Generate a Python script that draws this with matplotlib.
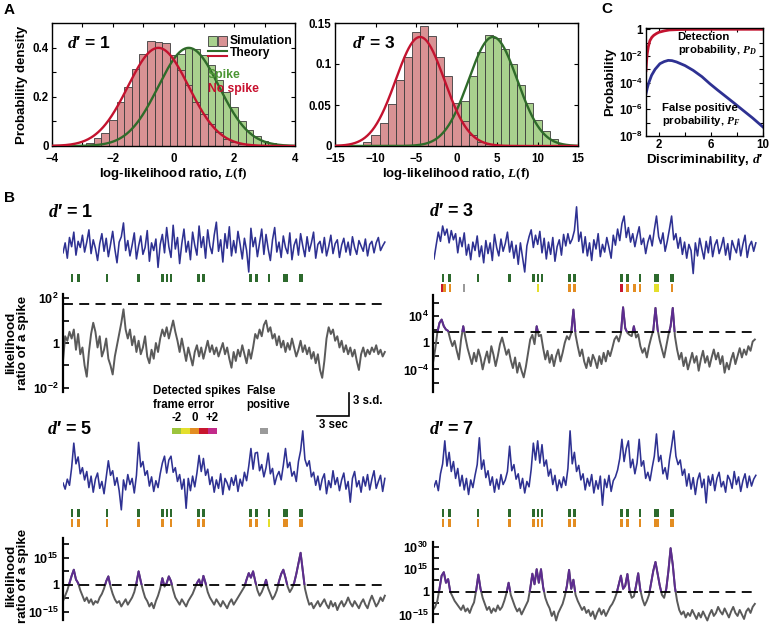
import numpy as np
import matplotlib
matplotlib.use('Agg')
import matplotlib.pyplot as plt
from matplotlib.patches import Rectangle
from matplotlib.lines import Line2D
from matplotlib.ticker import FixedLocator, FixedFormatter, NullFormatter

plt.rcParams['font.family'] = ['Liberation Sans', 'DejaVu Sans']
plt.rcParams['font.weight'] = 'bold'
plt.rcParams['axes.labelweight'] = 'bold'
plt.rcParams['mathtext.fontset'] = 'custom'
plt.rcParams['mathtext.rm'] = 'Liberation Serif'
plt.rcParams['mathtext.it'] = 'Liberation Serif:italic'
plt.rcParams['mathtext.bf'] = 'Liberation Sans:bold'
plt.rcParams['xtick.direction'] = 'in'
plt.rcParams['ytick.direction'] = 'in'
plt.rcParams['axes.linewidth'] = 1.0

# ---------------- data: panel A ----------------
hist1_centers = [-3.0, -2.75, -2.5, -2.25, -2.0, -1.75, -1.5, -1.25, -1.0, -0.75, -0.5, -0.25, 0.0,
                 0.25, 0.5, 0.75, 1.0, 1.25, 1.5, 1.75, 2.0, 2.25, 2.5, 2.75, 3.0, 3.25, 3.5]
hist1_nospike = [0.004, 0.013, 0.031, 0.054, 0.105, 0.18, 0.24, 0.314, 0.375, 0.426, 0.422, 0.418, 0.37,
                 0.31, 0.25, 0.18, 0.13, 0.09, 0.055, 0.03, 0.017, 0.008, 0.003, 0.001, 0.0, 0.0, 0.0]
hist1_spike = [0.0, 0.0, 0.002, 0.004, 0.008, 0.015, 0.028, 0.05, 0.08, 0.12, 0.17, 0.23, 0.30,
               0.375, 0.40, 0.395, 0.37, 0.33, 0.27, 0.22, 0.16, 0.10, 0.065, 0.04, 0.022, 0.012, 0.005]
hist3_centers = [-11, -10, -9, -8, -7, -6, -5, -4, -3, -2, -1, 0, 1, 2, 3, 4, 5, 6, 7, 8, 9, 10, 11, 12, 13]
hist3_nospike = [0.005, 0.013, 0.028, 0.051, 0.080, 0.109, 0.139, 0.146, 0.134, 0.109, 0.085, 0.052, 0.03,
                 0.013, 0.005, 0.002, 0, 0, 0, 0, 0, 0, 0, 0, 0]
hist3_spike = [0, 0, 0, 0, 0, 0, 0, 0.002, 0.004, 0.01, 0.018, 0.032, 0.055, 0.085, 0.115, 0.135, 0.132,
               0.118, 0.10, 0.075, 0.052, 0.032, 0.018, 0.008, 0.003]
theory1_mean = [0.5, -0.5]   # spike, no spike
theory1_sd = [1.0, 1.0]
theory3_mean = [4.5, -4.5]
theory3_sd = [3.0, 3.0]

# ---------------- data: panel C ----------------
c_dprime_pd = [1.0, 1.03, 1.06, 1.1, 1.18, 1.3, 1.45, 1.6, 1.8, 2.0, 2.4, 2.8, 3.5, 4.5, 6.0, 8.0, 10.0]
c_log10_pd = [-3.1, -2.6, -2.2, -1.8, -1.3, -0.85, -0.6, -0.45, -0.32, -0.22, -0.12, -0.05, -0.02, -0.005, 0, 0, 0]
c_dprime_pf = [1.0, 1.1, 1.2, 1.43, 1.7, 2.07, 2.4, 2.71, 3.0, 3.35, 4.0, 4.63, 5.3, 5.91, 6.5, 7.19, 7.8, 8.47, 9.2, 10.0]
c_log10_pf = [-4.83, -4.4, -4.05, -3.45, -3.0, -2.58, -2.42, -2.33, -2.35, -2.45, -2.72, -3.08, -3.55, -4.08,
              -4.55, -5.08, -5.55, -6.08, -6.65, -7.33]

# ---------------- data: panel B ----------------
sample_dt = 0.2  # s
spike_times = [0.83, 1.44, 4.07, 6.99, 9.21, 9.63, 10.0, 12.55, 13.01, 17.36, 17.92, 19.07, 20.6, 22.04]
spike_counts = [1, 1, 1, 1, 1, 1, 1, 1, 1, 1, 1, 1, 2, 2]

det3_times = [0.74, 0.99, 1.48, 9.63, 12.55, 13.01, 17.36, 17.92, 18.56, 19.07, 20.6, 22.04]
det3_err = [1, 0, 0, -1, 0, 0, 1, 0, 0, 0, -1, 0]
det3_counts = [1, 1, 1, 1, 1, 1, 1, 1, 1, 1, 2, 1]
fp3_times = [2.78]
det5_times = [0.83, 1.44, 4.07, 6.99, 9.21, 10.0, 12.55, 13.01, 17.36, 17.92, 19.07, 20.6, 22.04]
det5_err = [0, 0, 0, 0, 0, 0, 0, 0, 0, 0, -1, 0, 0]
det5_counts = [1, 1, 1, 1, 1, 1, 1, 1, 1, 1, 1, 2, 2]
det7_times = spike_times
det7_err = [0] * 14
det7_counts = spike_counts

blue1 = [-0.5, 0.8, -1.2, 1.5, 0.3, 2.2, -0.8, 1.0, 0.2, 1.8,
         -0.4, 0.9, 2.5, -0.6, 1.2, 0.1, -1.5, 0.7, 2.0, -0.3,
         1.4, -1.0, 0.6, 2.3, 0.0, -1.8, 0.9, 1.6, 3.4, -0.2,
         1.1, -0.9, 0.5, 2.1, -1.3, 0.4, 1.7, -0.7, 0.2, 2.4,
         -1.6, 0.8, -0.2, 1.3, -2.4, 0.6, 1.9, -0.5, 2.8, 0.3,
         -1.1, 3.1, 0.0, 1.5, -1.9, 0.7, 2.6, -0.4, 1.0, -1.4,
         2.2, 0.5, -0.8, 3.0, 0.2, 1.6, -1.2, 2.5, 0.4, -0.6,
         1.8, 3.5, -0.3, 1.2, -1.7, 2.0, 0.1, 2.9, -0.9, 1.1,
         -0.5, 2.3, 0.6, -1.3, 1.4, -0.2, -3.0, 2.7, 0.3, 1.5,
         -1.0, 0.8, 2.6, -0.7, 1.9, 0.0, -1.5, 1.2, 2.8, -0.4,
         0.9, -1.1, 1.7, 0.2, -0.6, 2.1, -1.4, 0.5, 1.3, -0.8,
         2.0, 0.4, -1.0, 1.6, -0.3, 0.8, 2.2, -1.2, 0.6, 1.0,
         -0.5, 1.5, -0.9, 0.3, 1.8, -0.6, 0.7, 1.2, -1.1, 0.5,
         1.4, -0.4, 0.9, -0.8, 1.6, 0.2, -0.7, 1.1, 0.4, -0.3,
         1.3, -0.9, 0.6, 1.0, -0.5, 0.8, 1.5, -0.2, 0.4, 0.9]
blue3 = [-1.3, 0.5, 2.2, 1.0, 3.0, 1.8, 2.6, 0.8, 2.4, 1.2,
         2.0, -0.5, 1.5, 0.3, 2.1, -0.8, 0.6, -1.4, 0.9, -0.2,
         1.7, -1.0, 0.4, -1.8, 1.1, -0.6, 0.8, -1.5, 1.9, 0.2,
         -0.9, 1.3, -0.3, 0.7, 2.2, -0.4, 1.0, -1.2, 0.5, -2.0,
         0.8, -1.1, -3.0, 0.4, 1.6, 2.5, 0.2, 1.8, 0.6, 2.3,
         -0.5, 1.4, -1.3, 0.9, -0.7, 1.5, -1.6, 0.3, 1.2, -0.8,
         1.9, 0.4, 2.0, 0.7, 1.3, 2.4, 5.5, 1.0, 2.2, -0.5,
         1.6, -0.9, 0.8, -1.5, 1.2, 0.0, 2.0, -1.0, 0.6, -0.4,
         1.5, 0.2, -1.2, 1.8, 0.5, 2.6, 1.1, 3.3, 4.3, 1.5,
         2.8, 0.9, 2.0, 0.3, 1.7, 2.9, 0.6, 1.4, -0.6, 0.9,
         1.8, 0.4, 2.5, 4.3, 1.6, 0.7, 2.1, -0.3, 1.0, 2.6,
         4.3, 1.2, 2.0, 0.1, 1.5, -0.7, 0.9, -1.2, 0.6, -0.2,
         -3.2, 0.8, -0.9, 1.4, 0.0, -1.3, 1.0, -0.5, 1.6, -1.0,
         0.5, 1.2, -0.6, 0.3, 1.5, -0.8, 0.7, -1.4, 1.1, 0.2,
         -0.5, 1.3, -0.9, 0.6, 1.8, -1.1, 0.4, 1.0, -0.3, 0.8]
blue5 = [0.0, -0.8, 0.5, -0.3, 2.0, 5.2, 2.5, 3.4, 1.2, 2.0,
         0.4, 1.5, -0.6, 0.9, -1.2, 0.5, 1.3, -0.7, 0.2, -1.4,
         0.8, 2.9, 1.0, 1.6, -0.3, 0.7, -1.0, -3.5, 0.4, -0.9,
         1.1, -0.2, 0.6, -1.3, 1.0, 5.3, 2.1, 2.8, 1.0, 1.6,
         -0.4, 0.8, -1.1, 0.3, -0.6, 1.2, 2.6, 3.5, 1.3, 3.0,
         3.5, 1.4, 2.0, 0.2, 1.1, -0.8, 0.5, -3.3, 0.6, -1.0,
         0.9, -0.5, 1.3, 3.6, 1.5, 3.2, 1.0, 1.8, -0.2, 0.8,
         -1.2, 0.4, -0.7, 1.2, -1.5, 0.6, 0.0, -0.9, 0.7, -0.3,
         1.0, -1.1, 0.5, -0.4, 1.4, 0.3, 2.2, 4.5, 1.8, 3.9,
         4.0, 1.6, 2.4, 0.8, 2.0, 3.9, 1.2, 1.9, -0.2, 0.9,
         1.5, 0.4, 2.3, 4.5, 2.0, 2.7, 0.9, 1.5, 0.2, 2.8,
         4.2, 6.8, 3.1, 2.2, 2.9, 0.8, 1.4, -0.3, 0.9, -0.9,
         0.5, 1.2, -1.4, 0.3, -0.6, 1.6, -0.2, 0.7, -1.0, 0.4,
         1.3, -0.8, 0.2, -2.5, 0.6, 1.5, -0.5, 0.3, -1.2, 0.8,
         -0.4, 1.1, -0.9, 0.5, 1.6, -0.7, 0.2, 1.0, -1.1, 0.6]
blue7 = [-0.5, 0.3, -1.0, 1.2, 2.5, 5.5, 2.2, 4.0, 1.5, 2.8,
         0.6, 1.9, -0.4, 1.0, -0.9, 0.6, -1.5, 0.4, -0.6, 1.0,
         2.4, 5.9, 1.8, 3.0, 0.7, 1.6, -0.3, 0.8, -1.2, 0.5,
         -0.8, 1.1, -0.2, 0.4, 1.5, 4.8, 1.6, 2.4, 0.5, 1.2,
         -0.7, 0.6, -1.3, 0.2, -0.5, 1.8, 5.2, 3.0, 5.5, 2.6,
         5.0, 2.2, 3.0, 0.9, 1.8, -0.2, 1.0, -1.0, 0.4, -0.6,
         0.8, -0.3, 1.9, 6.8, 2.5, 4.0, 1.5, 2.3, 0.4, 1.2,
         -0.9, 0.6, -0.4, 1.1, -1.3, 0.3, -0.8, 0.9, -2.9, 0.5,
         -0.6, 1.0, -1.1, 0.3, 0.8, 1.7, 3.2, 5.7, 2.8, 4.5,
         5.5, 2.0, 3.1, 1.2, 2.6, 5.7, 2.2, 2.9, 0.6, 1.4,
         0.3, 2.0, 3.5, 6.4, 2.8, 3.6, 1.2, 2.0, 0.5, 3.0,
         4.8, 6.8, 3.5, 2.4, 3.0, 1.0, 1.8, -0.4, 1.2, -0.8,
         0.7, -1.5, 0.4, 1.3, -0.6, 0.5, -2.6, 0.9, -0.3, 1.1,
         -1.0, 0.6, 1.4, -0.5, 0.2, -1.2, 1.0, 0.4, -0.7, 1.5,
         -0.2, 0.8, -1.1, 0.3, 1.2, -0.6, 0.9, -0.4, 0.5, 1.0]

# log10 likelihood ratio of a spike
lr1 = [-0.8, 0.3, 0.1, 0.5, 0.2, 0.6, -0.3, 0.4, -0.5, -0.2,
       -1.0, -1.5, -0.4, 0.4, 0.9, 0.5, -0.2, 0.3, -0.6, -0.3,
       0.2, -0.7, -1.0, -1.4, -0.6, -0.1, 0.4, 0.9, 1.5, 0.6,
       0.2, 0.6, -0.1, 0.3, -0.4, 0.1, -0.5, -0.2, 0.3, -0.6,
       -0.9, -0.3, -0.7, 0.0, -0.4, 0.2, 0.6, 0.3, 0.7, 0.2,
       0.6, 1.0, 0.5, 0.1, -0.4, 0.2, -0.3, -0.8, -0.2, -0.6,
       -1.0, -0.4, -0.1, -0.6, -0.2, -0.7, -0.3, 0.1, -0.4, -0.1,
       -0.5, -0.2, -0.6, -0.3, 0.0, -0.5, -0.2, -0.7, -1.1, -0.4,
       -0.8, -0.3, -0.6, -0.1, -0.5, -0.9, -0.3, -0.7, -0.2, 0.4,
       0.2, 0.6, 0.3, 0.8, 1.0, 0.5, 0.7, 0.2, 0.4, -0.1,
       0.3, -0.2, 0.1, -0.4, 0.0, -0.3, 0.2, -0.2, -0.6, -0.3,
       0.1, -0.4, -0.1, -0.5, -0.2, -0.7, -0.4, -0.9, -0.5, -1.2,
       -1.55, -0.8, 0.2, 0.7, 0.4, 0.6, 0.1, 0.3, -0.2, 0.1,
       -0.4, -0.1, -0.5, -0.2, -0.6, -0.3, -0.8, -1.2, -0.5, -0.2,
       -0.6, -0.3, -0.5, -0.2, -0.4, -0.1, -0.5, -0.3, -0.6, -0.4]
lr3 = [-3.0, -1.0, 1.5, 3.0, 3.5, 2.5, 2.0, 1.8, 0.5, -0.5,
       0.3, -1.2, -2.5, 0.5, 2.5, 0.8, -0.8, -2.0, -3.2, -1.5,
       -2.8, -1.0, -2.2, -4.0, -2.5, -1.3, -3.0, -0.5, -1.8, -3.5,
       -2.0, -0.2, 0.8, -0.5, -1.8, -1.0, -2.6, -3.8, -2.2, -4.5,
       -3.0, -4.2, -5.2, -3.6, -1.5, 0.5, 1.2, -0.2, 2.5, 1.0,
       1.2, -0.8, -2.5, -1.2, -3.0, -1.8, -3.5, -2.0, -1.0, -2.8,
       -1.5, 0.0, 1.0, 0.5, 1.5, 5.0, 1.2, -0.5, -2.0, -1.0,
       -2.8, -3.8, -2.2, -3.5, -1.8, -2.6, -3.8, -2.0, -3.2, -1.5,
       -2.8, -1.2, -2.0, -0.8, 0.5, 1.0, 0.2, 1.4, 5.35, 2.2,
       1.5, 1.2, 1.0, 2.5, 0.8, 1.3, -0.5, -1.5, -0.8, -2.2,
       -0.5, 0.8, 1.9, 5.25, 2.0, 0.3, -1.0, -2.2, -0.5, 1.2,
       2.5, 5.25, 1.0, -1.0, -2.5, -1.5, -3.5, -2.2, -4.0, -2.8,
       -1.5, -3.0, -2.0, -4.2, -2.5, -1.2, -3.0, -2.0, -3.6, -2.2,
       -1.0, -2.5, -1.5, -3.2, -2.0, -4.5, -3.0, -4.0, -2.5, -1.5,
       -3.2, -2.0, -0.8, -2.2, -1.0, -1.8, -0.5, -1.2, 0.2, 0.5]
lr5 = [-9, -6, -3, 1, 5, 8.4, 3, 1, -3, -6,
       -9, -7, -10, -8, -11, -9, -10, -7, -5, -2,
       2, 4.7, -1, -5, -8, -10, -9, -12, -10, -8,
       -11, -9, -7, -4, 1, 7.5, 2, -3, -7, -9,
       -12, -10, -13, -9, -6, -2, 3.7, -1, 1, 4.7,
       2, -3, -7, -9, -11, -8, -10, -12, -9, -7,
       -5, -2, 1, 3, -1, 5, 1, -4, -7, -9,
       -11, -8, -10, -12, -9, -11, -13, -10, -8, -11,
       -9, -7, -5, -3, -1, 3, 6.5, 4, 7.5, 2,
       -3, -6, -4, -1, 2.8, -2, -5, -8, -6, -3,
       2, 6, 8.4, 4, -1, -4, -2, 1, 6, 12,
       17.8, 8, -2, -7, -11, -10, -13, -11, -9, -12,
       -10, -8, -11, -13, -9, -12, -10, -14, -11, -9,
       -12, -10, -7, -10, -12, -9, -11, -13, -10, -8,
       -11, -13, -9, -6, -9, -12, -10, -7, -9, -6]
lr7 = [-12, -10, -6, 2, 10.7, 13, 6, 8.4, 0, -3,
       -6, -8, -10, -12, -9, -13, -11, -14, -10, -7,
       1, 11.4, 2, -4, -8, -12, -10, -14, -11, -13,
       -9, -12, -10, -6, -1, 6, -2, -6, -10, -13,
       -11, -15, -12, -9, -6, 2, 12, 5, 15, 6,
       15, 3, -4, -8, -11, -16, -13, -19, -14, -11,
       -8, -3, 4, 14.5, 2, 8, -2, -6, -9, -12,
       -10, -14, -12, -16, -13, -18, -14, -11, -15, -12,
       -16, -13, -10, -8, -5, -1, 5, 10.7, 2, 4,
       11.8, 1, -4, -3, 4, 12.3, 1, -5, -9, -6,
       -2, 6, 14, 19.8, 12, 4, -2, -4, 2, 14,
       28.9, 18, 3, -6, -12, -15, -13, -17, -14, -16,
       -12, -15, -18, -14, -17, -13, -16, -19, -15, -12,
       -16, -14, -10, -13, -15, -11, -14, -17, -13, -10,
       -14, -16, -12, -15, -18, -13, -11, -14, -10, -8]
lr_threshold = {1: 1.75, 3: 1.6, 5: 0.0, 7: 0.0}

err_values = [-2, -1, 0, 1, 2]
err_colors = ['#9cc43c', '#e4df2c', '#e38d22', '#c8162e', '#c22a8a']

# ---------------- styles ----------------
BLUE = '#2e3192'
GREEN_R = '#2d6a2d'
GRAY = '#5a5a5a'
PURPLE = '#5d2c90'
RED_C = '#c3132f'
GREEN_C = '#2f6b2a'
HIST_RED = '#d99294'
HIST_GREEN = '#a9d18e'
FP_GRAY = '#9a9a9a'
DPRIME = "$d$\u2032"

W, H = 769, 626
fig = plt.figure(figsize=(W / 100, H / 100), dpi=100)


def px_axes(x0, y0, x1, y1):
    return fig.add_axes([x0 / W, 1 - y1 / H, (x1 - x0) / W, (y1 - y0) / H])


def ftext(x, y, s, **kw):
    return fig.text(x / W, 1 - y / H, s, **kw)


# ================= Panel A =================
def hist_panel(ax, centers, sp, ns, width, means, sds, xlim):
    ax.bar(centers, sp, width=width, color=HIST_GREEN, edgecolor='#3c3c3c', linewidth=0.6, zorder=1)
    ax.bar(centers, ns, width=width, color=HIST_RED, edgecolor='#3c3c3c', linewidth=0.6, zorder=2)
    x = np.linspace(xlim[0], xlim[1], 400)
    for m, s, c in zip(means, sds, [GREEN_C, RED_C]):
        ax.plot(x, np.exp(-(x - m) ** 2 / (2 * s * s)) / (s * np.sqrt(2 * np.pi)), color=c, lw=1.7, zorder=3)
    ax.set_xlim(*xlim)
    ax.tick_params(which='both', direction='in', top=True, right=True, labelsize=8.3, length=3, width=0.8, pad=2.5)
    ax.tick_params(axis='x', pad=5)
    ax.set_xlabel(r"log-likelihood ratio, $L(\mathbf{f})$", fontsize=9.5, labelpad=1)


axA1 = px_axes(52, 23, 295, 146)
hist_panel(axA1, hist1_centers, hist1_spike, hist1_nospike, 0.25, theory1_mean, theory1_sd, (-4, 4))
axA1.set_ylim(0, 0.5)
axA1.set_xticks([-4, -2, 0, 2, 4])
axA1.set_xticks([-3, -1, 1, 3], minor=True)
axA1.set_yticks([0, 0.2, 0.4])
axA1.set_yticklabels(['0', '0.2', '0.4'])
axA1.set_yticks([0.1, 0.3], minor=True)
axA1.set_ylabel('Probability density', fontsize=9.5, labelpad=3)
axA1.text(0.06, 0.84, DPRIME + " = 1", transform=axA1.transAxes, fontsize=12.5, va='center')
# legend
tA = axA1.transAxes
axA1.add_patch(Rectangle((0.642, 0.815), 0.037, 0.08, transform=tA, facecolor=HIST_GREEN, edgecolor='#3c3c3c', lw=0.6, clip_on=False))
axA1.add_patch(Rectangle((0.682, 0.815), 0.037, 0.08, transform=tA, facecolor=HIST_RED, edgecolor='#3c3c3c', lw=0.6, clip_on=False))
axA1.text(0.73, 0.855, 'Simulation', transform=tA, fontsize=8.7, va='center')
axA1.add_line(Line2D([0.642, 0.72], [0.775, 0.775], transform=tA, color=GREEN_C, lw=1.5))
axA1.add_line(Line2D([0.642, 0.72], [0.735, 0.735], transform=tA, color=RED_C, lw=1.5))
axA1.text(0.73, 0.755, 'Theory', transform=tA, fontsize=8.7, va='center')
axA1.text(0.642, 0.575, 'Spike', transform=tA, fontsize=8.7, va='center', color='#4b9634')
axA1.text(0.642, 0.465, 'No spike', transform=tA, fontsize=8.7, va='center', color='#c8102e')

axA2 = px_axes(335, 23, 578, 146)
hist_panel(axA2, hist3_centers, hist3_spike, hist3_nospike, 1.0, theory3_mean, theory3_sd, (-15, 15))
axA2.set_ylim(0, 0.15)
axA2.set_xticks([-15, -10, -5, 0, 5, 10, 15])
axA2.set_yticks([0, 0.05, 0.1, 0.15])
axA2.set_yticklabels(['0', '0.05', '0.1', '0.15'])
axA2.text(0.07, 0.84, DPRIME + " = 3", transform=axA2.transAxes, fontsize=12.5, va='center')

# ================= Panel C =================
axC = px_axes(646, 28, 763, 136)
axC.set_yscale('log')
axC.plot(c_dprime_pd, 10.0 ** np.array(c_log10_pd), color=RED_C, lw=2.0)
axC.plot(c_dprime_pf, 10.0 ** np.array(c_log10_pf), color=BLUE, lw=2.0)
axC.set_xlim(1, 10)
axC.set_ylim(1e-8, 1.25)
axC.yaxis.set_major_locator(FixedLocator([1e-8, 1e-6, 1e-4, 1e-2, 1]))
axC.yaxis.set_major_formatter(FixedFormatter([r'$\mathbf{10^{-8}}$', r'$\mathbf{10^{-6}}$', r'$\mathbf{10^{-4}}$',
                                              r'$\mathbf{10^{-2}}$', '1']))
axC.yaxis.set_minor_locator(FixedLocator([1e-7, 1e-5, 1e-3, 1e-1]))
axC.yaxis.set_minor_formatter(NullFormatter())
axC.set_xticks([2, 6, 10])
axC.set_xticks([4, 8], minor=True)
axC.tick_params(which='both', direction='in', top=True, right=True, labelsize=8.3, length=3, width=0.8, pad=2)
axC.set_ylabel('Probability', fontsize=9.5, labelpad=2)
axC.set_xlabel("Discriminability, " + DPRIME, fontsize=9.5, labelpad=1)
axC.text(0.27, 0.85, 'Detection\nprobability, $P_D$', transform=axC.transAxes, fontsize=8.2, va='center',
         linespacing=1.1)
axC.text(0.14, 0.19, 'False positive\nprobability, $P_F$', transform=axC.transAxes, fontsize=8.2, va='center',
         linespacing=1.1)

# ================= Panel B =================
PX_PER_S = 10.8
PX_PER_SD = 23.0 / 3.0
TRACE_W = 30 * PX_PER_S
t = np.arange(150) * sample_dt


def blue_trace(x0, base, vals):
    up, down = 64, 32
    ax = px_axes(x0, base - up, x0 + TRACE_W, base + down)
    ax.plot(t, vals, color=BLUE, lw=1.15)
    ax.set_xlim(0, 30)
    ax.set_ylim(-down / PX_PER_SD, up / PX_PER_SD)
    ax.axis('off')
    return ax


def raster(x0, top, det=None, err=None, dcounts=None, fp=None):
    ax = px_axes(x0, top, x0 + TRACE_W, top + 20)
    ax.set_xlim(0, 30)
    ax.set_ylim(20, 0)
    widths = [0.26 if c == 1 else 0.45 for c in spike_counts]
    ax.bar(spike_times, 7.8, width=widths, bottom=1, color=GREEN_R, linewidth=0)
    if det is not None:
        cols = [err_colors[err_values.index(e)] for e in err]
        w2 = [0.26 if c == 1 else 0.45 for c in dcounts]
        ax.bar(det, 8, width=w2, bottom=11, color=cols, linewidth=0)
    if fp is not None:
        ax.bar(fp, 8, width=0.26, bottom=11, color=FP_GRAY, linewidth=0)
    ax.axis('off')


def lr_axes(x0, y0, y1, lo, hi, vals, thr, majors, labels, minors):
    ax = px_axes(x0, y0, x0 + TRACE_W, y1)
    ax.set_yscale('log')
    y = 10.0 ** np.asarray(vals, dtype=float)
    ax.plot(t, y, color=GRAY, lw=1.4)
    ln, = ax.plot(t, y, color=PURPLE, lw=1.4)
    clip = Rectangle((0, 10.0 ** thr), 30, 10.0 ** (hi + 5), transform=ax.transData)
    ln.set_clip_path(clip)
    ax.axhline(10.0 ** thr, color='black', lw=1.3, ls=(0, (5.5, 3.5)))
    ax.set_xlim(0, 30)
    ax.set_ylim(10.0 ** lo, 10.0 ** hi)
    for s in ['top', 'right', 'bottom']:
        ax.spines[s].set_visible(False)
    ax.spines['left'].set_linewidth(1.6)
    ax.set_xticks([])
    ax.yaxis.set_major_locator(FixedLocator([10.0 ** m for m in majors]))
    ax.yaxis.set_major_formatter(FixedFormatter(labels))
    ax.yaxis.set_minor_locator(FixedLocator([10.0 ** m for m in minors]))
    ax.yaxis.set_minor_formatter(NullFormatter())
    ax.tick_params(axis='y', which='both', direction='in', length=4, width=1.2, labelsize=9, pad=3)
    return ax


# d' = 1
ftext(48, 213, DPRIME + " = 1", fontsize=13, va='center')
blue_trace(63, 249, blue1)
raster(63, 273)
lr_axes(63, 294, 392, -2.18, 2.18, lr1, lr_threshold[1], [-2, 0, 2],
        [r'$\mathbf{10^{-2}}$', '1', r'$\mathbf{10^{2}}$'], [-1, 1])

# d' = 3
ftext(429, 212, DPRIME + " = 3", fontsize=13, va='center')
blue_trace(434, 249, blue3)
raster(434, 273, det3_times, det3_err, det3_counts, fp3_times)
lr_axes(433, 295, 392, -7.4, 7.2, lr3, lr_threshold[3], [-4, 0, 4],
        [r'$\mathbf{10^{-4}}$', '1', r'$\mathbf{10^{4}}$'], [-6, -2, 2, 6])

# d' = 5
ftext(47, 430, DPRIME + " = 5", fontsize=13, va='center')
blue_trace(63, 483, blue5)
raster(63, 508, det5_times, det5_err, det5_counts)
lr_axes(63, 538, 620, -19.5, 26, lr5, lr_threshold[5], [-15, 0, 15],
        [r'$\mathbf{10^{-15}}$', '1', r'$\mathbf{10^{15}}$'], [-7.5, 7.5, 22.5])

# d' = 7
ftext(429, 430, DPRIME + " = 7", fontsize=13, va='center')
blue_trace(434, 483, blue7)
raster(434, 508, det7_times, det7_err, det7_counts)
lr_axes(433, 542, 622, -20, 33, lr7, lr_threshold[7], [-15, 0, 15, 30],
        [r'$\mathbf{10^{-15}}$', '1', r'$\mathbf{10^{15}}$', r'$\mathbf{10^{30}}$'], [-7.5, 7.5, 22.5])

# y labels
ftext(17, 343, 'likelihood\nratio of a spike', rotation=90, ha='center', va='center', fontsize=9.6,
      multialignment='center', linespacing=1.05)
ftext(17, 576, 'likelihood\nratio of a spike', rotation=90, ha='center', va='center', fontsize=9.6,
      multialignment='center', linespacing=1.05)

# legend: detected spikes frame error
ftext(153, 398, 'Detected spikes\nframe error', fontsize=8.3, va='center', linespacing=1.15)
ftext(246, 398, 'False\npositive', fontsize=8.3, va='center', linespacing=1.15)
axL = px_axes(172, 428, 217, 434)
axL.bar(err_values, 1, width=1, color=err_colors, linewidth=0)
axL.set_xlim(-2.5, 2.5)
axL.set_ylim(0, 1)
for v, s in zip([-2, 0, 2], ['-2', '0', '+2']):
    axL.text(v, 1.6, s, ha='center', va='bottom', fontsize=8.3, clip_on=False)
axL.axis('off')
axF = px_axes(260, 428, 268, 434)
axF.bar([0], [1], width=1, color=FP_GRAY, linewidth=0)
axF.set_xlim(-0.5, 0.5)
axF.set_ylim(0, 1)
axF.axis('off')

# scale bar: 3 s and 3 s.d.
axS = px_axes(317, 393, 317 + 3 * PX_PER_S, 393 + 3 * PX_PER_SD)
axS.plot([0, 3, 3], [0, 0, 3], color='black', lw=1.2, clip_on=False, solid_joinstyle='miter')
axS.set_xlim(0, 3)
axS.set_ylim(0, 3)
axS.axis('off')
axS.text(3.35, 2.0, '3 s.d.', fontsize=8.3, va='center', ha='left')
axS.text(1.5, -0.35, '3 sec', fontsize=8.3, va='top', ha='center')

# panel letters
ftext(4, 10, 'A', fontsize=11, va='center')
ftext(4, 198, 'B', fontsize=11, va='center')
ftext(601, 9, 'C', fontsize=11, va='center')

fig.savefig('out.png', dpi=100)
